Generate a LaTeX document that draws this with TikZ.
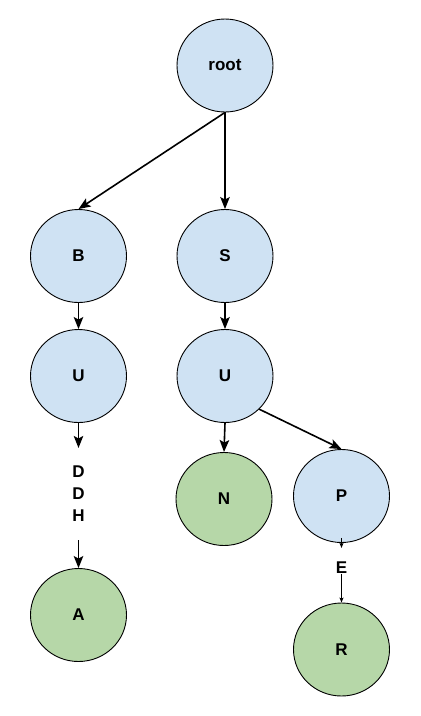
\documentclass[tikz,border=0pt]{standalone}
\usepackage{fontspec}
\setmainfont{Liberation Sans}
\usetikzlibrary{shapes.geometric,arrows.meta}
\definecolor{nodeblue}{HTML}{CFE2F3}
\definecolor{nodegreen}{HTML}{B6D7A8}
\tikzset{
  tnode/.style={ellipse, draw=black, line width=0.9pt, minimum width=96pt, minimum height=93pt, inner sep=0pt, font=\fontsize{17}{22}\selectfont\bfseries},
  bluenode/.style={tnode, fill=nodeblue},
  greennode/.style={tnode, fill=nodegreen},
  lbl/.style={font=\fontsize{17}{22}\selectfont\bfseries, align=center, inner sep=0pt},
  edge/.style={line width=1.6pt, -{Stealth[length=12pt,width=9.5pt,inset=2.5pt]}},
  thinedge/.style={line width=0.8pt, -{Stealth[length=5pt,width=4pt,inset=1pt]}}
}
\begin{document}
\begin{tikzpicture}[x=1pt,y=-1pt]
\useasboundingbox[fill=white] (0,0) rectangle (421,716);
\node[bluenode] (root) at (225,65.5) {root};
\node[bluenode] (B) at (78.5,256) {B};
\node[bluenode] (S) at (225,256) {S};
\node[bluenode] (U1) at (78.5,376) {U};
\node[bluenode] (U2) at (225,376) {U};
\node[greennode] (N) at (224,499) {N};
\node[bluenode] (P) at (341.5,496) {P};
\node[greennode] (A) at (78.5,615) {A};
\node[greennode] (R) at (341.5,649.5) {R};
\node[lbl, inner ysep=18pt] (ddh) at (78.5,494) {D\\D\\H};
\node[lbl] (E) at (341.5,567.5) {E};
\draw[edge] (root.south) -- (B.north);
\draw[edge] (root.south) -- (S.north);
\draw[edge] (B.south) -- (U1.north);
\draw[edge] (S.south) -- (U2.north);
\draw[edge] (U2.south) -- (N.north);
\draw[edge] (U2.south east) -- (P.north);
\draw[edge] (U1.south) -- (ddh.north);
\draw[edge] (ddh.south) -- (A.north);
\draw[thinedge, shorten <=-5pt, shorten >=13.5pt] (P.south) -- (E.north);
\draw[thinedge] (E.south) -- (R.north);
\end{tikzpicture}
\end{document}
